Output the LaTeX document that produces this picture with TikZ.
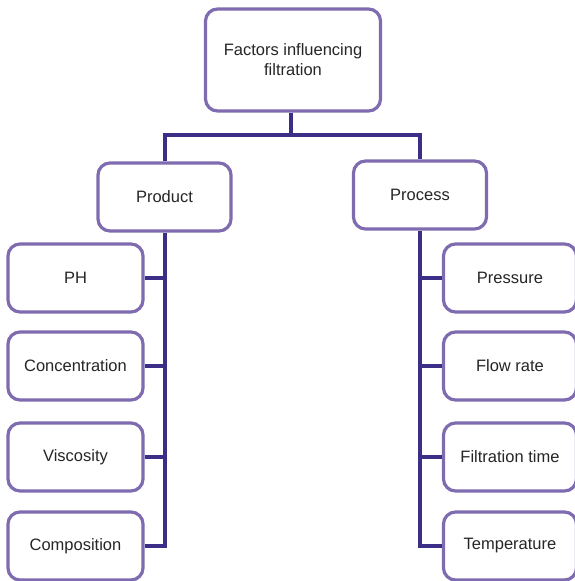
\documentclass[tikz,border=0pt]{standalone}
\usepackage{fontspec}
\setmainfont{Liberation Sans}
\definecolor{boxline}{HTML}{7E6BB0}
\definecolor{treeline}{HTML}{3B2E86}
\definecolor{txt}{HTML}{262626}
\begin{document}
\begin{tikzpicture}[x=1pt,y=-1pt,
    factor/.style={draw=boxline,line width=3.2pt,rounded corners=12pt,fill=white,
      text=txt,font=\fontsize{16.5}{20}\selectfont,align=center,
      minimum width=133pt,minimum height=68pt,inner sep=0pt},
    branch/.style={draw=treeline,line width=4pt}]
      \useasboundingbox (0,0) rectangle (575,581);
      \draw
        (293,60) node[factor,minimum width=175pt,minimum height=102pt] (top){Factors influencing\\filtration}
        (164.5,197) node[factor] (product){Product}
        (420,195) node[factor] (process){Process}
        (75.5,278) node[factor,minimum width=135pt] (ph){PH}
        (75.5,366) node[factor,minimum width=135pt] (conc){Concentration}
        (75.5,457) node[factor,minimum width=135pt] (visc){Viscosity}
        (75.5,546) node[factor,minimum width=135pt] (comp){Composition}
        (510,278) node[factor] (pres){Pressure}
        (510,366) node[factor] (flow){Flow rate}
        (510,457) node[factor] (ftime){Filtration time}
        (510,546) node[factor] (temp){Temperature};
      \coordinate (hub) at (291,135);
      \begin{scope}[branch]
        \draw (top.south -| hub) -- (hub);
        \draw (product.north) |- (hub) -| (process.north);
        \foreach \n in {ph,conc,visc,comp}
          \draw (\n.east) -| (product.south);
        \foreach \n in {pres,flow,ftime,temp}
          \draw (\n.west) -| (process.south);
      \end{scope}
    \end{tikzpicture}
\end{document}
